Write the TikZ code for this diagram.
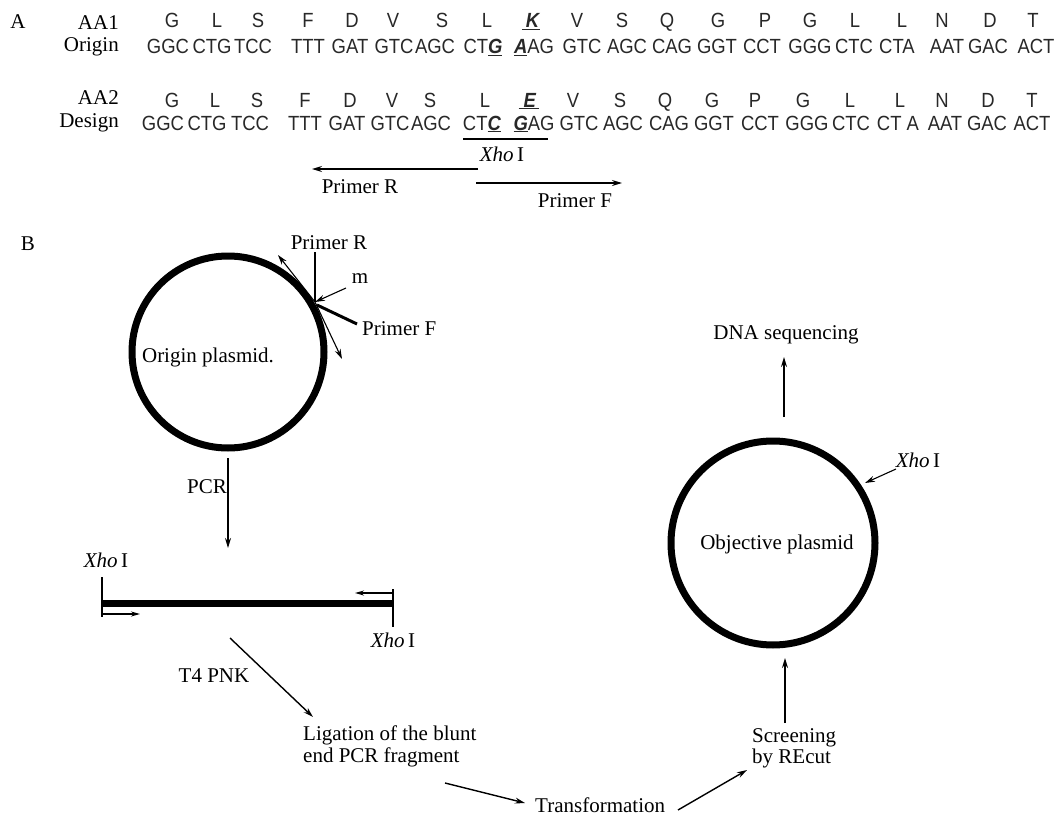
\documentclass[tikz,border=0pt]{standalone}
\usepackage{fontspec}
\setmainfont{Liberation Serif}
\newfontfamily\seqf[FakeStretch=0.9]{Liberation Sans}
\usetikzlibrary{arrows.meta}
\definecolor{seqgray}{RGB}{40,40,40}
\tikzset{
  lab/.style={font=\fontsize{21}{22}\selectfont, inner sep=0pt, anchor=base},
  labr/.style={lab, anchor=base east},
  labl/.style={lab, anchor=base west},
  seq/.style={font=\seqf\fontsize{20.5}{22}\selectfont, inner sep=0pt, anchor=base, text=seqgray},
  arr/.style={-{Stealth[length=10pt,width=6pt]}, line width=1.4pt},
  plain/.style={line width=1.4pt},
  dna/.style={line width=7pt},
  plasmid/.style={circle, draw, line width=7pt, inner sep=0pt},
}
\newcommand\mut[1]{\underline{\textbf{\textit{#1}}}}
\begin{document}
\begin{tikzpicture}[x=1pt,y=-1pt]
\fill[white] (0,0) rectangle (1061,816);
\useasboundingbox (0,0) rectangle (1061,816);

% ---------- Panel A ----------
\node[lab] (pA) at (18,29) {A};
\node[labr] (aa1) at (119,30) {AA1};
\node[labr] (orig) at (119,52) {Origin};
\node[labr] (aa2) at (119,105) {AA2};
\node[labr] (desg) at (119,127) {Design};

\foreach \x/\a [count=\i] in {172/G,217/L,258/S,308/F,352/D,393/V,442/S,487/L,577/V,622/S,667/Q,718/G,765/P,810/G,855/L,902/L,942/N,990/D,1033/T}
  \node[seq] (ra\i) at (\x,27.5) {\a};
\node[seq] (rk) at (531,27.5) {\underline{\hspace{4pt}\textbf{\textit{K}}}};

\foreach \x/\c [count=\i] in {168/GGC,212/CTG,253/TCC,308/TTT,350/GAT,394/GTC,435/AGC,483/{CT\mut{G}},534/{\mut{A}AG},582/GTC,627/AGC,672/CAG,717/GGT,762/CCT,810/GGG,854/CTC,897/CTA,947/AAT,988/GAC,1036/ACT}
  \node[seq] (rc\i) at (\x,54) {\c};

\foreach \x/\a [count=\i] in {172/G,215/L,257/S,305/F,350/D,392/V,430/S,485/L,573/V,620/S,665/Q,712/G,755/P,803/G,850/L,900/L,942/N,988/D,1032/T}
  \node[seq] (sa\i) at (\x,107) {\a};
\node[seq] (se) at (529,107) {\underline{\hspace{5pt}\textbf{\textit{E}}\hspace{3pt}}};

\foreach \x/\c [count=\i] in {163/GGC,207/CTG,250/TCC,305/TTT,347/GAT,390/GTC,431/AGC,482/{CT\mut{C}},534/{\mut{G}AG},579/GTC,623/AGC,669/CAG,714/GGT,760/CCT,807/GGG,851/CTC,898/{CT A},945/AAT,987/GAC,1032/ACT}
  \node[seq] (sc\i) at (\x,130) {\c};

\coordinate (xl) at (463,139);
\coordinate (xr) at (548,139);
\draw[plain] (xl) -- (xr);
\node[lab] (xhoA) at (502,161) {\textit{Xho}\,I};

\coordinate (prS) at (478,169);
\coordinate (prE) at (312,169);
\draw[arr] (prS) -- (prE);
\node[lab] (prA) at (360,193) {Primer R};
\coordinate (pfS) at (476,183);
\coordinate (pfE) at (622,183);
\draw[arr] (pfS) -- (pfE);
\node[lab] (pfA) at (575,207) {Primer F};

% ---------- Panel B ----------
\node[lab] (pB) at (28,250) {B};

\node[plasmid, minimum size=192pt] (op) at (228,352) {};
\node[lab] (optext) at (208,362) {Origin plasmid.};

\coordinate (J) at (315,302);
\node[lab] (prB) at (329,249) {Primer R};
\coordinate (prtop) at (315,252);
\draw[plain] (prtop) -- (J);
\coordinate (upl) at (278,255);
\draw[arr, line width=1.1pt] (J) -- (upl);
\coordinate (dnr) at (342,359);
\draw[arr, line width=1.1pt] (J) -- (dnr);
\node[lab] (mB) at (360,283) {m};
\coordinate (ms) at (346,288);
\draw[arr, line width=1.1pt] (ms) -- (J);
\coordinate (pfa) at (317,305);
\coordinate (pfb) at (357,324);
\draw[line width=3pt] (pfa) -- (pfb);
\node[labl] (pfB) at (362,335) {Primer F};

\coordinate (pcrS) at (228,458);
\coordinate (pcrE) at (228,548);
\draw[arr] (pcrS) -- (pcrE);
\node[lab] (pcr) at (207,493) {PCR};

% linear fragment
\coordinate (fl) at (102,603);
\coordinate (fr) at (393,603);
\draw[dna, line cap=butt] (fl) -- (fr);
\coordinate (tlt) at (102,577);
\coordinate (tlb) at (102,617);
\draw[plain] (tlt) -- (tlb);
\coordinate (trt) at (393,589);
\coordinate (trb) at (393,627);
\draw[plain] (trt) -- (trb);
\coordinate (al1) at (102,614);
\coordinate (al2) at (140,614);
\draw[arr, -{Stealth[length=9pt,width=5pt]}] (al1) -- (al2);
\coordinate (ar1) at (393,593);
\coordinate (ar2) at (355,593);
\draw[arr, -{Stealth[length=9pt,width=5pt]}] (ar1) -- (ar2);
\node[lab] (xhoL) at (106,567) {\textit{Xho}\,I};
\node[lab] (xhoR) at (393,647) {\textit{Xho}\,I};

\coordinate (t4s) at (230,638);
\coordinate (t4e) at (313,717);
\draw[arr] (t4s) -- (t4e);
\node[lab] (t4) at (214,682) {T4 PNK};

\node[labl] (lig1) at (303,740) {Ligation of the blunt};
\node[labl] (lig2) at (303,762) {end PCR fragment};

\coordinate (l2tS) at (445,783);
\coordinate (l2tE) at (525,803);
\draw[arr] (l2tS) -- (l2tE);
\node[labl] (trans) at (535,812) {Transformation};

\coordinate (t2sS) at (678,810);
\coordinate (t2sE) at (747,770);
\draw[arr] (t2sS) -- (t2sE);
\node[labl] (scr1) at (752,742) {Screening};
\node[labl] (scr2) at (752,763) {by REcut};

\node[plasmid, minimum size=204pt] (obj) at (773,543) {};
\node[lab] (objtext) at (777,549) {Objective plasmid};

\coordinate (s2oS) at (785,723);
\coordinate (s2oE) at (785,658);
\draw[arr] (s2oS) -- (s2oE);

\coordinate (dnaS) at (784,417);
\coordinate (dnaE) at (784,357);
\draw[arr] (dnaS) -- (dnaE);
\node[lab] (dna) at (786,339) {DNA sequencing};

\node[lab] (xhoO) at (918,467) {\textit{Xho}\,I};
\coordinate (xoS) at (896,469);
\coordinate (xoE) at (865,483);
\draw[arr, line width=1.1pt] (xoS) -- (xoE);
\end{tikzpicture}
\end{document}
